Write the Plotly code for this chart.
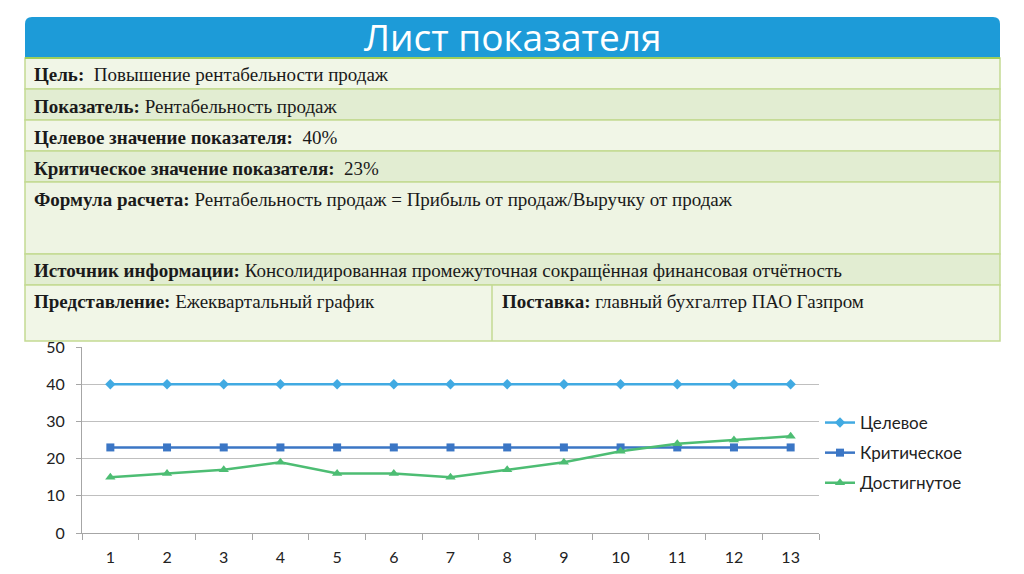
import plotly.graph_objects as go

categories = [str(i) for i in range(1, 14)]
target = [40] * 13
critical = [23] * 13
achieved = [15, 16, 17, 19, 16, 16, 15, 17, 19, 22, 24, 25, 26]
series_names = ["Целевое", "Критическое", "Достигнутое"]
y_ticks = [0, 10, 20, 30, 40, 50]

title_text = "Лист показателя"
rows = [
    ("Цель:", "  Повышение рентабельности продаж"),
    ("Показатель:", " Рентабельность продаж"),
    ("Целевое значение показателя:", "  40%"),
    ("Критическое значение показателя:", "  23%"),
    ("Формула расчета:", " Рентабельность продаж = Прибыль от продаж/Выручку от продаж"),
    ("Источник информации:", " Консолидированная промежуточная сокращённая финансовая отчётность"),
    ("Представление:", " Ежеквартальный график"),
    ("Поставка:", " главный бухгалтер ПАО Газпром"),
]

# the page body has an 8px margin; the figure is sized to fit the window
OFF = 8
W, H = 1024 - 2 * OFF, 574 - 2 * OFF
def X(px): return (px - OFF) / W
def Y(py): return 1 - (py - OFF) / H

fig = go.Figure()
fig.add_trace(go.Scatter(x=categories, y=target, name=series_names[0], mode="lines+markers",
                         line=dict(color="#41aae2", width=2.5),
                         marker=dict(symbol="diamond", size=8, color="#41aae2"), legendgroup="a"))
fig.add_trace(go.Scatter(x=categories, y=critical, name=series_names[1], mode="lines+markers",
                         line=dict(color="#3b76c5", width=2.5),
                         marker=dict(symbol="square", size=8, color="#3b76c5"), legendgroup="b"))
fig.add_trace(go.Scatter(x=categories, y=achieved, name=series_names[2], mode="lines+markers",
                         line=dict(color="#4dbd73", width=2.5),
                         marker=dict(symbol="triangle-up", size=9, color="#4dbd73"), legendgroup="c"))

shapes = []
x0, x1, y0, y1, r = 25, 1000, 17, 58, 7
path = (f"M {X(x0)},{Y(y1)} L {X(x0)},{Y(y0+r)} Q {X(x0)},{Y(y0)} {X(x0+r)},{Y(y0)} "
        f"L {X(x1-r)},{Y(y0)} Q {X(x1)},{Y(y0)} {X(x1)},{Y(y0+r)} L {X(x1)},{Y(y1)} Z")
shapes.append(dict(type="path", xref="paper", yref="paper", path=path,
                   fillcolor="#1d9bd8", line=dict(width=0)))

row_bounds = [(58, 89), (89, 120), (120, 151), (151, 182), (182, 254), (254, 285), (285, 341)]
fills = ["#f1f6e7", "#e2edd2", "#f1f6e7", "#e2edd2", "#eef4e3", "#e2edd2", "#f1f6e7"]
for (a, b), f in zip(row_bounds, fills):
    shapes.append(dict(type="rect", xref="paper", yref="paper", x0=X(25), x1=X(1000),
                       y0=Y(b), y1=Y(a), fillcolor=f, line=dict(color="#c3da93", width=1.5)))
shapes.append(dict(type="line", xref="paper", yref="paper", x0=X(492), x1=X(492),
                   y0=Y(341), y1=Y(285), line=dict(color="#c3da93", width=1.5)))
shapes.append(dict(type="line", xref="paper", yref="paper", x0=X(25), x1=X(1000),
                   y0=Y(58), y1=Y(58), line=dict(color="#9fcf5a", width=2)))

annotations = [dict(text=title_text, xref="paper", yref="paper", x=X(512), y=Y(36),
                    xanchor="center", yanchor="middle", showarrow=False,
                    font=dict(family="Open Sans", size=37, color="white"))]
text_pos = [(32, 75), (32, 106), (32, 137), (32, 168), (32, 199), (32, 270), (32, 301), (500, 301)]
for (lab, val), (tx, ty) in zip(rows, text_pos):
    annotations.append(dict(text=f"<b>{lab}</b>{val}", xref="paper", yref="paper",
                            x=X(tx), y=Y(ty), xanchor="left", yanchor="middle", showarrow=False,
                            font=dict(family="Liberation Serif", size=19, color="#1a1a1a")))

fig.update_layout(
    width=W, height=H, margin=dict(l=0, r=0, t=0, b=0, autoexpand=False),
    paper_bgcolor="white", plot_bgcolor="white",
    shapes=shapes, annotations=annotations,
    showlegend=True,
    legend=dict(x=X(820), y=Y(405), xanchor="left", yanchor="top",
                font=dict(family="Lato", size=17, color="#222"),
                tracegroupgap=5, bgcolor="rgba(0,0,0,0)"),
    xaxis=dict(domain=[X(82), X(819)], type="category", range=[-0.5, 12.5],
               showline=True, linecolor="#a6a6a6",
               ticks="outside", tickson="boundaries", ticklen=6, tickcolor="#a6a6a6",
               ticklabelstandoff=10, showgrid=False, automargin=False,
               tickfont=dict(family="Lato", size=16, color="#222")),
    yaxis=dict(domain=[Y(533), Y(347)], range=[0, 50], tickvals=y_ticks, automargin=False,
               showline=True, linecolor="#a6a6a6", ticks="outside", ticklen=5,
               ticklabelstandoff=8,
               tickcolor="#a6a6a6", gridcolor="#bfbfbf", gridwidth=1, zeroline=False,
               tickfont=dict(family="Lato", size=16, color="#222")),
)

fig.write_html("out.html")
